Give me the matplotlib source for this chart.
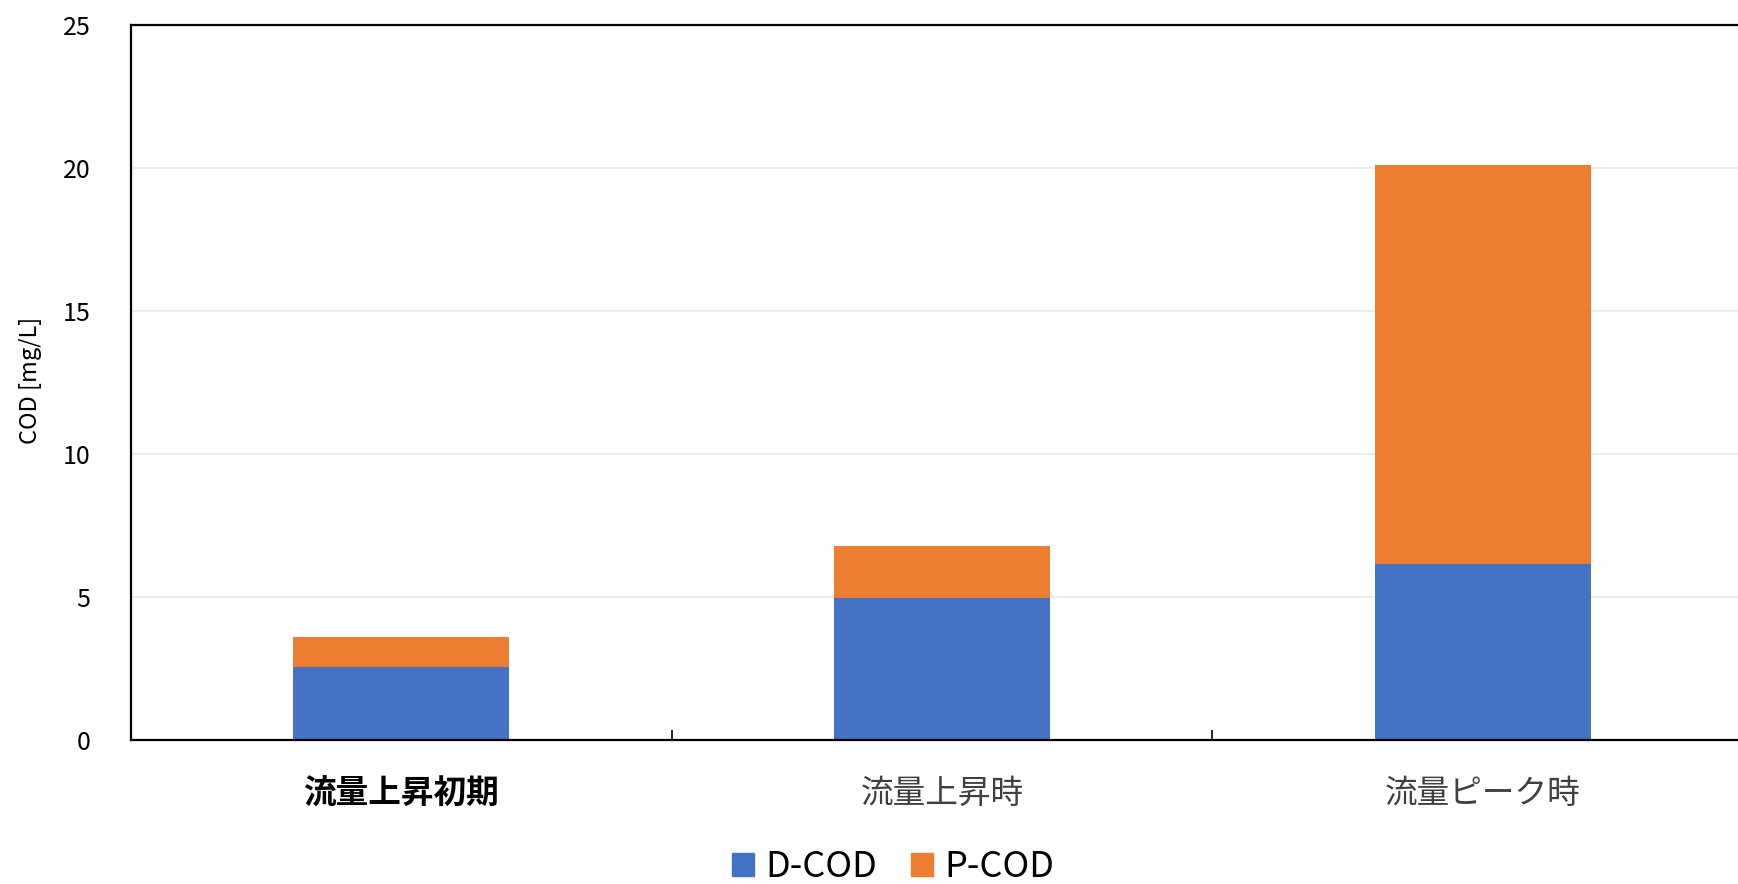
import matplotlib
matplotlib.use("Agg")
import matplotlib.pyplot as plt
from matplotlib.ticker import FixedLocator
from matplotlib.patches import Patch

plt.rcParams['font.family'] = ['Noto Sans CJK JP', 'DejaVu Sans']

# Data
categories = ["流量上昇初期", "流量上昇時", "流量ピーク時"]
d_cod = [2.56, 4.97, 6.15]
p_cod = [1.03, 1.81, 13.95]
series_names = ["D-COD", "P-COD"]
y_ticks = [0, 5, 10, 15, 20, 25]

blue = "#4472C4"
orange = "#ED7D31"

fig = plt.figure(figsize=(17.38, 8.84), dpi=100)
ax = fig.add_axes([131 / 1738, 1 - 740 / 884, 1622 / 1738, 715 / 884])

x = list(range(len(categories)))
ax.bar(x, d_cod, width=0.4, color=blue, zorder=3)
ax.bar(x, p_cod, width=0.4, bottom=d_cod, color=orange, zorder=3)

ax.set_xlim(-0.5, len(categories) - 0.5)
ax.set_ylim(0, 25)

# horizontal gridlines
ax.set_yticks(y_ticks)
ax.yaxis.grid(True, color="#EBEBEB", linewidth=1.5, zorder=0)
ax.tick_params(axis="y", length=0, pad=29, labelsize=18, labelcolor="black")

# category labels, separators as inward minor ticks
ax.set_xticks(x)
ax.set_xticklabels(categories)
ax.xaxis.set_minor_locator(FixedLocator([i + 0.5 for i in x[:-1]]))
ax.tick_params(axis="x", which="major", length=0, pad=27, labelsize=23.5)
ax.tick_params(axis="x", which="minor", direction="in", length=7.5, width=1.2, color="black")
for i, lab in enumerate(ax.get_xticklabels()):
    if i == 0:
        lab.set_fontweight("bold")
        lab.set_color("black")
    else:
        lab.set_color("#404040")

for side in ["left", "top", "bottom", "right"]:
    ax.spines[side].set_color("black")
    ax.spines[side].set_linewidth(1.6)
    ax.spines[side].set_zorder(4)

# y-axis title placed in figure coordinates
fig.text(31 / 1738, 1 - 380 / 884, "COD [mg/L]", rotation=90, fontsize=17,
         ha="center", va="center")

handles = [Patch(color=blue), Patch(color=orange)]
fig.legend(handles, series_names, loc="center", bbox_to_anchor=(893 / 1738, 1 - 867 / 884),
           ncol=2, frameon=False, fontsize=26, handlelength=0.62, handleheight=0.62,
           handletextpad=0.3, columnspacing=0.95)

fig.savefig("out.png", dpi=100)
